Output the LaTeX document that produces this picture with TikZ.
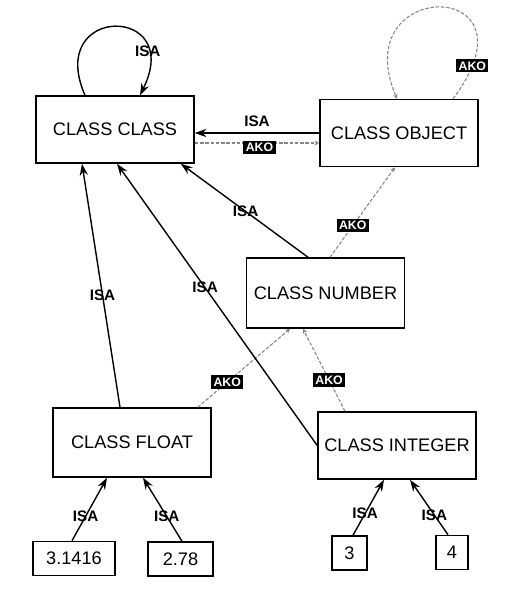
\documentclass[tikz,border=0pt]{standalone}
\usepackage{fontspec}
\setmainfont{Liberation Sans}
\usetikzlibrary{arrows.meta, calc}
\definecolor{akogray}{HTML}{858585}

\begin{document}
\begin{tikzpicture}[x=0.03cm, y=-0.03cm,
  classbox/.style={draw, line width=1.3pt, minimum width=4.74cm, minimum height=2.01cm,
                   inner sep=0pt, font=\fontsize{15.5}{18}\selectfont},
  valbox/.style={draw, line width=1.3pt, minimum height=1.02cm, inner sep=0pt,
                 font=\fontsize{15.5}{18}\selectfont},
  isa/.style={draw, line width=1.2pt, -{Stealth[length=10pt, width=7pt]}},
  isalabel/.style={font=\bfseries\fontsize{13}{15}\selectfont, inner sep=1pt},
  akoline/.style={draw=akogray, line width=0.9pt, dash pattern=on 3pt off 1.5pt,
                  -{Stealth[length=4pt, width=4pt]}},
  akolabel/.style={fill=black, text=white, font=\bfseries\fontsize{10.5}{12}\selectfont,
                   inner xsep=2pt, inner ysep=2pt}]

\useasboundingbox (0,0) rectangle (512,595);

% Classes
\node[classbox] (cclass) at (115,129.5) {CLASS CLASS};
\node[classbox] (cobj) at (399,133) {CLASS OBJECT};
\node[classbox, minimum height=2.1cm] (cnum) at (325.5,293) {CLASS NUMBER};
\node[classbox, minimum height=2.07cm] (cfloat) at (132,442.5) {CLASS FLOAT};
\node[classbox] (cint) at (397,445.5) {CLASS INTEGER};

% Instances
\node[valbox, minimum width=2.46cm] (vpi) at (74,558.5) {3.1416};
\node[valbox, minimum width=1.95cm] (vtwo) at (180.5,559) {2.78};
\node[valbox, minimum width=1.05cm] (vthree) at (349.5,553) {3};
\node[valbox, minimum width=0.96cm] (vfour) at (452,552.5) {4};

% Self loops
\draw[isa] ($(cclass.north)+(-30,0)$) .. controls +(-40,-91) and +(45,-91) ..
      ($(cclass.north)+(25,0)$) node[isalabel, pos=0.8] {ISA};
\draw[akoline] ($(cobj.north)+(54,0)$) .. controls +(92,-122) and +(-52,-122) ..
      ($(cobj.north)+(-2,0)$) node[akolabel, pos=0.1] {AKO};

% Object and class
\draw[isa] (cobj.west) -- (cobj.west -| cclass.east) node[isalabel, midway, above=4pt] {ISA};
\draw[akoline] ($(cclass.east)+(0,13.5)$) -- ($(cobj.west)+(0,10)$)
      node[akolabel, pos=0.52, yshift=-4pt] {AKO};

% Number
\draw[isa] ($(cnum.north)+(-17.5,0)$) -- ($(cclass.south east)+(-14,0)$) node[isalabel, pos=0.49] {ISA};
\draw[akoline] ($(cnum.north)+(4.5,0)$) -- ($(cobj.south)+(-4,0)$) node[akolabel, pos=0.35] {AKO};

% Float and integer
\draw[isa] ($(cfloat.north)+(-12,0)$) -- ($(cclass.south)+(-33,0)$) node[isalabel, pos=0.46] {ISA};
\draw[akoline] ($(cfloat.north east)+(-14,0)$) -- ($(cnum.south)+(-35.5,0)$) node[akolabel, pos=0.32] {AKO};
\draw[isa] (cint.west) -- ($(cclass.south)+(2,0)$) node[isalabel, pos=0.56] {ISA};
\draw[akoline] ($(cint.north)+(-52,0)$) -- ($(cnum.south)+(-22.5,0)$) node[akolabel, pos=0.38] {AKO};

% Instances up
\draw[isa] ($(vpi.north)+(-2,0)$) -- ($(cfloat.south)+(-25,0)$) node[isalabel, pos=0.39] {ISA};
\draw[isa] ($(vtwo.north)+(1.5,0)$) -- ($(cfloat.south)+(11,0)$) node[isalabel, pos=0.39] {ISA};
\draw[isa] ($(vthree.north)+(3.5,0)$) -- ($(cint.south)+(-13,0)$) node[isalabel, pos=0.39] {ISA};
\draw[isa] ($(vfour.north)+(-4,0)$) -- ($(cint.south)+(13,0)$) node[isalabel, pos=0.36] {ISA};

\end{tikzpicture}
\end{document}
